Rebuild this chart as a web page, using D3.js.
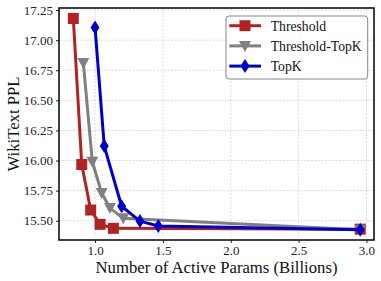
<!DOCTYPE html>
<html><head><meta charset="utf-8">
<script src="https://cdn.jsdelivr.net/npm/d3@7"></script>
<style>body{margin:0;background:#fff}svg{display:block}
svg text{font-family:"Liberation Serif","Times New Roman",Times,"DejaVu Serif",serif;}
</style>
</head><body>
<script>
const seriesNames = ["Threshold", "Threshold-TopK", "TopK"];
const thresholdX = [0.840, 0.902, 0.968, 1.037, 1.135, 2.954];
const thresholdY = [17.18, 15.967, 15.589, 15.47, 15.437, 15.43];
const thresholdTopKX = [0.914, 0.980, 1.049, 1.110, 1.208, 2.954];
const thresholdTopKY = [16.81, 15.99, 15.73, 15.605, 15.52, 15.425];
const topKX = [1.0, 1.068, 1.196, 1.331, 1.466, 2.954];
const topKY = [17.106, 16.12, 15.62, 15.497, 15.456, 15.425];
const xTicks = [1.0, 1.5, 2.0, 2.5, 3.0];
const yTicks = [15.50, 15.75, 16.00, 16.25, 16.50, 16.75, 17.00, 17.25];

const W = 381, H = 281;
const m = {left: 59, top: 8, right: 7, bottom: 41};
const svg = d3.select("body").append("svg").attr("width", W).attr("height", H);
const x = d3.scaleLinear().domain([0.7345, 3.0555]).range([m.left, W - m.right]);
const y = d3.scaleLinear().domain([15.340, 17.267]).range([H - m.bottom, m.top]);

// grid
svg.append("g").selectAll("line").data(xTicks).join("line")
  .attr("x1", d => x(d)).attr("x2", d => x(d)).attr("y1", m.top).attr("y2", H - m.bottom)
  .attr("stroke", "#d0d0d0").attr("stroke-width", 0.8).attr("stroke-dasharray", "2,1.5");
svg.append("g").selectAll("line").data(yTicks).join("line")
  .attr("y1", d => y(d)).attr("y2", d => y(d)).attr("x1", m.left).attr("x2", W - m.right)
  .attr("stroke", "#d0d0d0").attr("stroke-width", 0.8).attr("stroke-dasharray", "2,1.5");

// axes
const xAxis = svg.append("g").attr("transform", `translate(0,${H - m.bottom})`)
  .call(d3.axisBottom(x).tickValues(xTicks).tickFormat(d3.format(".1f")).tickSize(3).tickPadding(3));
const yAxis = svg.append("g").attr("transform", `translate(${m.left},0)`)
  .call(d3.axisLeft(y).tickValues(yTicks).tickFormat(d3.format(".2f")).tickSize(3).tickPadding(3));
[xAxis, yAxis].forEach(g => {
  g.attr("font-family", null);
  g.select(".domain").remove();
  g.selectAll("text").attr("font-size", 13).attr("fill", "#222");
  g.selectAll("line").attr("stroke", "#222");
});

const series = [
  {name: seriesNames[0], xs: thresholdX, ys: thresholdY, color: "#b22222", sym: "square"},
  {name: seriesNames[1], xs: thresholdTopKX, ys: thresholdTopKY, color: "#808080", sym: "tri"},
  {name: seriesNames[2], xs: topKX, ys: topKY, color: "#0000cd", sym: "diamond"}
];
function marker(g, sym, color, cx, cy) {
  if (sym === "square") {
    g.append("rect").attr("x", cx - 5.5).attr("y", cy - 5.5).attr("width", 11).attr("height", 11).attr("fill", color);
  } else if (sym === "tri") {
    g.append("path").attr("d", `M${cx-6},${cy-5}L${cx+6},${cy-5}L${cx},${cy+6}Z`).attr("fill", color);
  } else {
    g.append("path").attr("d", `M${cx},${cy-7}L${cx+4.5},${cy}L${cx},${cy+7}L${cx-4.5},${cy}Z`).attr("fill", color);
  }
}
const line = d3.line().x(d => x(d[0])).y(d => y(d[1]));
series.forEach(s => {
  const pts = s.xs.map((v, i) => [v, s.ys[i]]);
  const g = svg.append("g");
  g.append("path").datum(pts).attr("d", line).attr("fill", "none")
    .attr("stroke", s.color).attr("stroke-width", 3).attr("stroke-linejoin", "round");
  pts.forEach(p => marker(g, s.sym, s.color, x(p[0]), y(p[1])));
});

// frame
svg.append("rect").attr("x", m.left).attr("y", m.top)
  .attr("width", W - m.left - m.right).attr("height", H - m.top - m.bottom)
  .attr("fill", "none").attr("stroke", "#111").attr("stroke-width", 1.6);

// legend
const lg = svg.append("g");
lg.append("rect").attr("x", 226).attr("y", 16).attr("width", 141.7).attr("height", 63).attr("rx", 3)
  .attr("fill", "rgba(255,255,255,0.85)").attr("stroke", "#888").attr("stroke-width", 1);
series.forEach((s, i) => {
  const cy = 25.7 + i * 20.2;
  lg.append("line").attr("x1", 229.3).attr("x2", 261).attr("y1", cy).attr("y2", cy)
    .attr("stroke", s.color).attr("stroke-width", 3);
  marker(lg, s.sym, s.color, 245, cy);
  lg.append("text").attr("x", 270.7).attr("y", cy + 5).text(s.name)
    .attr("font-size", 13.7).attr("fill", "#111");
});

// axis labels
svg.append("text").attr("x", (m.left + W - m.right) / 2).attr("y", 273).attr("text-anchor", "middle")
  .attr("font-size", 16.7).attr("fill", "#111").text("Number of Active Params (Billions)");
svg.append("text").attr("transform", `translate(18.5,${(m.top + H - m.bottom) / 2}) rotate(-90)`)
  .attr("text-anchor", "middle").attr("font-size", 16.7).attr("fill", "#111").text("WikiText PPL");
</script>
</body></html>
